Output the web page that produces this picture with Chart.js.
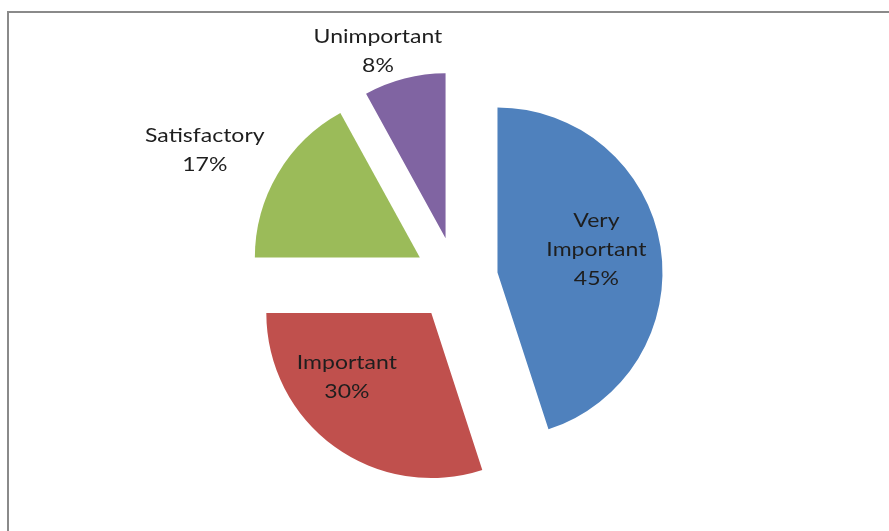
<!DOCTYPE html>
<html>
<head>
<meta charset="utf-8">
<script src="https://cdn.jsdelivr.net/npm/chart.js@4/dist/chart.umd.min.js"></script>
<style>
  html, body { margin: 0; padding: 0; background: #fff; }
  #wrap { position: relative; width: 889px; height: 531px; }
</style>
</head>
<body>
<div id="wrap"><canvas id="pie"></canvas></div>
<script>
// Survey responses: share of each rating (%)
const categories = ['Very Important', 'Important', 'Satisfactory', 'Unimportant'];
const shares = [45, 30, 17, 8];
const sliceColors = ['#4F81BD', '#C0504D', '#9BBB59', '#8064A2'];

// How far every slice is pulled out from the centre (px)
const EXPLODE = 42;

// Where each slice's label sits: angle tweak (deg) and distance as a multiple of the radius
const labelPlacement = [
  { dAngle: -3, dist: 0.87, inside: true },
  { dAngle: 12, dist: 0.89, inside: true },
  { dAngle: -3.5, dist: 1.71, inside: false },
  { dAngle: -4.5, dist: 1.46, inside: false }
];

// Grey frame along the top and left edges
const framePlugin = {
  id: 'frame',
  beforeDraw(chart) {
    const ctx = chart.ctx;
    ctx.save();
    ctx.strokeStyle = '#8a8a8a';
    ctx.lineWidth = 2;
    ctx.beginPath();
    ctx.moveTo(8, chart.height);
    ctx.lineTo(8, 12);
    ctx.lineTo(chart.width, 12);
    ctx.stroke();
    ctx.restore();
  }
};

// Exploded pie: each arc element is drawn shifted along its mid-angle,
// keeping the same radius for every slice
const explodePlugin = {
  id: 'explode',
  beforeDatasetsDraw(chart) {
    const ctx = chart.ctx;
    chart.getDatasetMeta(0).data.forEach(arc => {
      const mid = (arc.startAngle + arc.endAngle) / 2;
      ctx.save();
      ctx.translate(Math.cos(mid) * EXPLODE, Math.sin(mid) * EXPLODE);
      arc.draw(ctx);
      ctx.restore();
    });
    return false;
  }
};

// Category name and percentage drawn next to / inside each slice
const sliceLabels = {
  id: 'sliceLabels',
  afterDraw(chart) {
    const ctx = chart.ctx;
    const meta = chart.getDatasetMeta(0);
    ctx.save();
    ctx.font = '20px Lato, "Open Sans", sans-serif';
    ctx.fillStyle = '#1e1e1e';
    ctx.textAlign = 'center';
    ctx.textBaseline = 'middle';
    meta.data.forEach((arc, i) => {
      const p = arc.getProps(['x', 'y', 'startAngle', 'endAngle', 'outerRadius']);
      const place = labelPlacement[i];
      const mid = (p.startAngle + p.endAngle) / 2 + place.dAngle * Math.PI / 180;
      const d = place.dist * p.outerRadius;
      const cx = p.x + Math.cos(mid) * d;
      const cy = p.y + Math.sin(mid) * d;
      const name = categories[i];
      const lines = (place.inside && name.includes(' ')) ? name.split(' ') : [name];
      lines.push(Math.round(shares[i]) + '%');
      const lh = 29;
      const top = cy - (lines.length - 1) * lh / 2;
      lines.forEach((t, k) => {
        ctx.save();
        ctx.translate(cx, top + k * lh);
        ctx.scale(1.15, 1);
        ctx.fillText(t, 0, 0);
        ctx.restore();
      });
    });
    ctx.restore();
  }
};

new Chart(document.getElementById('pie'), {
  type: 'pie',
  data: {
    labels: categories,
    datasets: [{
      data: shares,
      backgroundColor: sliceColors,
      borderWidth: 0
    }]
  },
  options: {
    responsive: true,
    maintainAspectRatio: false,
    animation: false,
    radius: 165,
    layout: { padding: { left: 156, right: 133, top: 93, bottom: 66 } },
    plugins: {
      legend: { display: false },
      tooltip: { enabled: false }
    }
  },
  plugins: [framePlugin, explodePlugin, sliceLabels]
});
</script>
</body>
</html>
